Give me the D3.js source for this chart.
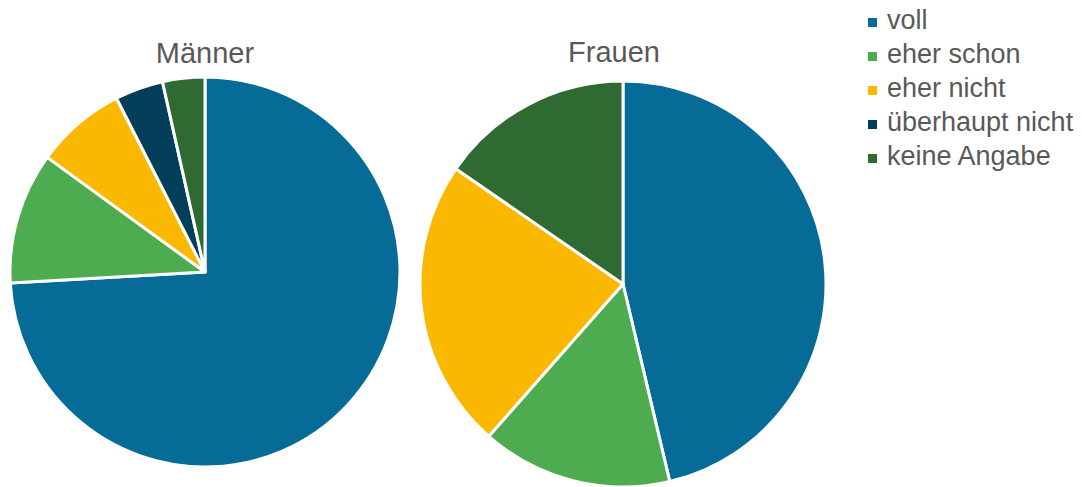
<!DOCTYPE html>
<html>
<head>
<meta charset="utf-8">
<script src="https://cdn.jsdelivr.net/npm/d3@7"></script>
<style>
  body { margin: 0; background: #fff; }
  svg { display: block; font-family: "Liberation Sans", Arial, sans-serif; }
</style>
</head>
<body>
<svg id="chart" width="1082" height="487"></svg>
<script>
// Categories and colours
var categories = ['voll', 'eher schon', 'eher nicht', 'überhaupt nicht', 'keine Angabe'];
var colors = ['#066b96', '#4eac50', '#fbb800', '#033f5b', '#2e6a31'];

// Shares in percent
var maenner = [74.1, 10.9, 7.5, 4.0, 3.5];
var frauen = [46.3, 15.2, 23.1, 0, 15.4];

var pies = [
  {title: 'Männer', values: maenner, cx: 205, cy: 272, r: 195, tx: 205, ty: 63},
  {title: 'Frauen', values: frauen, cx: 623, cy: 284, r: 203, tx: 614, ty: 62}
];

var svg = d3.select('#chart');
var color = d3.scaleOrdinal().domain(categories).range(colors);

var pie = d3.pie()
    .value(function(d) { return d.value; })
    .sort(null);

pies.forEach(function(p) {
    var data = categories.map(function(c, i) { return {cat: c, value: p.values[i]}; });
    var arc = d3.arc().innerRadius(0).outerRadius(p.r);

    var g = svg.append('g')
        .attr('transform', 'translate(' + p.cx + ',' + p.cy + ')');

    g.selectAll('path')
        .data(pie(data).filter(function(d) { return d.data.value > 0; }))
        .enter().append('path')
        .attr('d', arc)
        .attr('fill', function(d) { return color(d.data.cat); })
        .attr('stroke', '#fff')
        .attr('stroke-width', 3)
        .attr('stroke-linejoin', 'round');

    // Chart title
    svg.append('text')
        .attr('x', p.tx)
        .attr('y', p.ty)
        .attr('text-anchor', 'middle')
        .attr('font-size', 29)
        .attr('fill', '#595959')
        .text(p.title);
});

// Legend
var legend = svg.append('g')
    .attr('transform', 'translate(868,0)');

var item = legend.selectAll('g')
    .data(categories)
    .enter().append('g')
    .attr('transform', function(d, i) { return 'translate(0,' + (29 + i * 34) + ')'; });

item.append('rect')
    .attr('x', 0)
    .attr('y', -11)
    .attr('width', 9)
    .attr('height', 9)
    .attr('fill', function(d) { return color(d); });

item.append('text')
    .attr('x', 19)
    .attr('y', 0)
    .attr('font-size', 27)
    .attr('fill', '#595959')
    .text(function(d) { return d; });
</script>
</body>
</html>
